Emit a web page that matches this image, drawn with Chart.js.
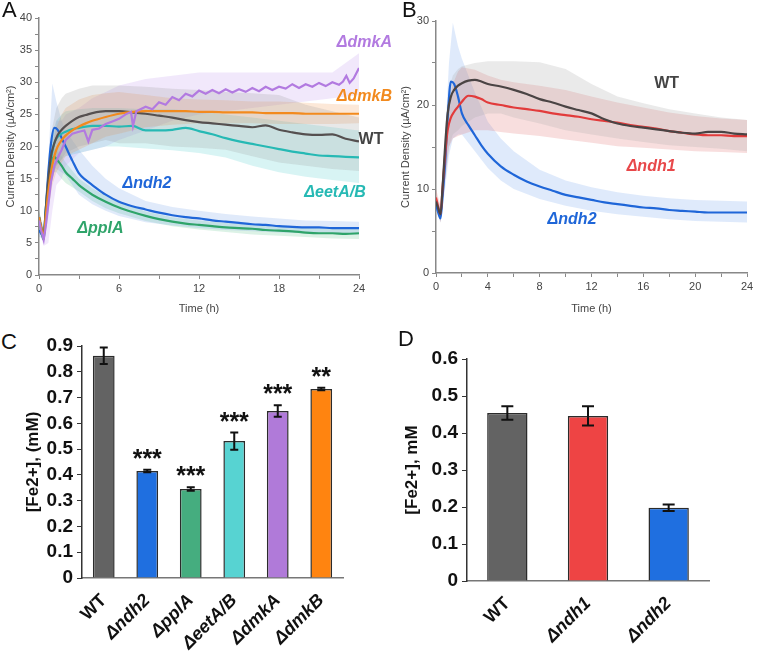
<!DOCTYPE html>
<html>
<head>
<meta charset="utf-8">
<script src="https://cdn.jsdelivr.net/npm/chart.js@4.4.0/dist/chart.umd.min.js"></script>
<style>
  body { margin: 0; background: #fff; width: 760px; height: 655px; position: relative; overflow: hidden;
         font-family: Arial, "Liberation Sans", sans-serif; }
  canvas { position: absolute; }
  .tag { position: absolute; font-size: 22px; line-height: 22px; color: #111; }
</style>
</head>
<body>
<canvas id="chartA" width="395" height="320" style="left:0;top:0"></canvas>
<canvas id="chartB" width="365" height="320" style="left:395px;top:0"></canvas>
<canvas id="chartC" width="370" height="330" style="left:19px;top:325px"></canvas>
<canvas id="chartD" width="362" height="330" style="left:398px;top:325px"></canvas>
<div class="tag" style="left:2px;top:-1px">A</div>
<div class="tag" style="left:402px;top:-1px">B</div>
<div class="tag" style="left:1px;top:331px">C</div>
<div class="tag" style="left:398px;top:328px">D</div>
<script>
// ---- panel A / B : current density traces ----
const timeLine = [0,0.15,0.35,0.5,0.7,0.9,1.15,1.4,1.7,2,2.5,3,3.5,4,5,6,7,8,9,10,11,12,13,14,15,16,17,18,19,20,21,22,23,24];
const timeBand = [0,0.35,0.7,1,1.3,1.7,2,3,4,5,6,8,10,12,14,16,18,20,22,24];
const timeDmkA = [0,0.15,0.35,0.5,0.7,0.9,1.15,1.4,1.7,2,2.5,3,3.4,3.7,4,4.5,5,5.5,6,6.5,6.9,7.05,7.3,8,8.5,9,9.5,10,10.5,11,11.5,12,12.5,13,13.5,14,14.5,15,15.5,16,16.5,17,17.5,18,18.5,19,19.5,20,20.5,21,21.5,22,22.5,22.8,23.05,23.3,23.6,24];

const wtA    = [9,7.5,6,10,15,18.5,20.5,21.8,22.6,23.2,24,24.6,24.9,25.2,25.5,25.5,25.3,25.1,24.8,24.5,24.1,23.8,23.6,23.4,23.2,23.0,23.3,22.6,22.2,21.9,21.8,21.9,21.2,20.8];
const dmkBA  = [9,7.5,6,9,13,16,18.5,20,21,21.7,22.5,23.1,23.6,24,24.6,25.1,25.4,25.5,25.5,25.5,25.5,25.4,25.4,25.3,25.3,25.3,25.2,25.2,25.2,25.1,25.1,25.1,25.1,25.1];
const eetA   = [9,7.5,6,10,14.5,18,20.5,21.5,22,22.3,22.7,22.9,23.1,23.2,23.2,23.1,23.2,22.5,22.5,22.6,22.9,22.4,21.9,21.3,20.8,20.4,20.0,19.6,19.2,18.9,18.6,18.5,18.4,18.3];
const ndh2A  = [7,6.5,6,10,16,20.5,22.9,22.6,21.3,20,17.8,15.8,14.8,14.0,12.5,11.4,10.7,10.2,9.7,9.3,9.0,8.8,8.5,8.3,8.1,7.9,7.8,7.6,7.5,7.4,7.4,7.3,7.3,7.3];
const pplA   = [9,7,5.5,9,13.5,17.5,18.4,17.8,17,16,15,14,13.2,12.5,11.4,10.5,9.8,9.2,8.7,8.3,8.0,7.8,7.6,7.4,7.3,7.2,7.0,6.9,6.8,6.6,6.5,6.5,6.4,6.5];
const dmkAA  = [8.5,7,5.5,7.5,11,14.5,17,18.2,19.5,21,22,22.3,22.5,20.8,22.6,22.8,23.5,23.9,24.3,25,25.4,23.2,25.5,26.2,25.8,26.9,26.5,27.7,27.2,28.2,27.8,28.7,28.2,28.8,28.3,28.9,28.4,28.9,28.5,29.1,28.6,29.3,28.8,29.3,29.0,29.7,29.1,29.7,29.3,29.9,29.4,30,29.6,30.1,31,29.9,30.6,32.2];

const wtAHi   = [10,7,17,23,26,27.5,28.2,29,29.5,29.5,29.5,29.3,29,28.8,28.5,28.3,28,26.5,25.5,24.5];
const wtALo   = [8,5,12,15,17,18,19,20,20.5,21,20.5,20.5,20,19.8,19.5,18.5,17.5,17,16.5,16.2];
const dmkBAHi = [10,7,15,20,23,25,26,27.3,28,28.3,28.5,28,27.5,27.3,27.2,27,27,26.8,26.6,26.5];
const dmkBALo = [8,5,10,14,16,17.5,18.5,19.5,20.5,21.5,22,23,23.4,23.6,23.6,23.6,23.5,23.5,23.5,23.6];
const eetAHi  = [10,7,15,22,24,25,25.5,25.8,26,26,26,25.8,25.8,25.5,25,24.5,24,23.5,23,22.5];
const eetALo  = [8,5,11,15,17,18,18.5,19,19.5,20,20,19.7,19.4,19,18.3,17,16,15.3,14.8,14.3];
const dmkAAHi = [10,7,14,20,24,24,25,26,27.5,28.5,29.5,30.5,31,31.5,31.5,31.5,31.5,31.5,31.5,34.5];
const dmkAALo = [7,4.5,5,10,14,15,17,19,19.5,20,21,22.5,24,25,25.5,26,26.5,27,27.5,28];
const ndh2AHi = [8,7,18,29.8,27,24,22.5,19.5,17,15,13.5,11.5,10.6,10,9.5,9.1,8.8,8.5,8.4,8.3];
const ndh2ALo = [6,5.5,10,17,16.5,16,15.5,12.5,11,10,9.2,8.2,7.7,7.3,7,6.8,6.6,6.5,6.4,6.3];
const pplAHi  = [10,6.5,14,20,19.5,18.5,17.5,15,13.5,12.3,11.3,9.9,9,8.5,8.1,7.8,7.5,7.3,7.2,7.2];
const pplALo  = [8,5,9,16,16,15,14.3,13,11.5,10.4,9.6,8.4,7.6,7.1,6.7,6.3,6.1,5.9,5.7,5.6];

const wtB    = [8.5,7.8,7,10,15,19,21,21.8,22.3,22.6,22.9,23,22.8,22.5,22.2,21.8,21.3,20.7,20.3,19.8,19.4,19,18.3,17.8,17.5,17.3,17.1,16.9,16.7,16.6,16.8,16.8,16.6,16.5];
const ndh1B  = [9,8,7,10,14,17,18.5,19.2,19.8,20.4,21.1,21,20.7,20.3,20,19.7,19.5,19.3,19,18.8,18.6,18.3,18.1,17.9,17.6,17.4,17.2,16.9,16.7,16.5,16.4,16.4,16.3,16.3];
const ndh2B  = [8.2,7.3,6.5,9,13,18.5,22.8,22.5,21,19,17.6,16.4,15.2,14.2,12.7,11.7,10.9,10.3,9.8,9.3,9.0,8.7,8.4,8.2,8.0,7.8,7.7,7.5,7.4,7.3,7.2,7.2,7.2,7.2];
const wtBHi   = [9,8,17,22,23.5,24.3,24.6,25,25.2,25.2,25.2,25.1,24.3,22.5,21,20.2,19.5,19,18.5,18.2];
const wtBLo   = [8,6,11,15,16.5,17,17.5,18.5,19,19,18.5,17.8,17,16.5,16,15.6,15.2,15,14.8,14.5];
const ndh1BHi = [10,8,16,20,22.5,24,24.5,24.2,23.5,23,22.7,22.3,21.8,21,20.3,19.7,19.1,18.7,18.4,18.2];
const ndh1BLo = [8,6,11,15,16,16.3,16.5,17,17,16.8,16.6,16.3,15.9,15.5,15.1,14.9,14.7,14.5,14.4,14.3];
const ndh2BHi = [9,7.5,16,25,29.8,27,25.5,21.5,18,16,14.5,12.3,11,10.2,9.6,9.2,8.9,8.7,8.6,8.5];
const ndh2BLo = [7.5,6,10,14,16,16.5,16.5,14.5,12.5,11,10,8.8,8,7.4,7,6.7,6.4,6.2,6.1,6];

const labelTextA = ['ΔdmkA', 'ΔdmkB', 'WT', 'ΔeetA/B', 'Δndh2', 'ΔpplA'];
const labelXA = [24.4, 24.4, 24.9, 22.2, 8.1, 4.6];
const labelYA = [36.1, 27.7, 21.0, 12.9, 14.2, 7.3];
const labelColA = ['#b27ae0', '#f28a1e', '#444444', '#26b9b4', '#1f66d8', '#2fa46a'];
const labelTextB = ['WT', 'Δndh1', 'Δndh2'];
const labelXB = [17.8, 16.6, 10.5];
const labelYB = [22.6, 12.7, 6.4];
const labelColB = ['#444444', '#e8484a', '#1f66d8'];

// ---- panel C / D : Fe2+ bars ----
const strainsC = ['WT', 'Δndh2', 'ΔpplA', 'ΔeetA/B', 'ΔdmkA', 'ΔdmkB'];
const fe2C = [0.862, 0.415, 0.345, 0.531, 0.648, 0.733];
const errC = [0.032, 0.005, 0.007, 0.033, 0.022, 0.005];
const starsC = ['', '***', '***', '***', '***', '**'];
const colorsC = ['#636363', '#1f6fe0', '#45ad7f', '#57d3d2', '#b07ad9', '#ff8410'];
const strainsD = ['WT', 'Δndh1', 'Δndh2'];
const fe2D = [0.454, 0.446, 0.198];
const errD = [0.018, 0.026, 0.009];
const colorsD = ['#636363', '#ee4444', '#1f6fe0'];

const FONT = 'Arial, "Liberation Sans", sans-serif';
Chart.defaults.font.family = FONT;
Chart.defaults.animation = false;

function pts(t, v) { return t.map((x, i) => ({ x: x, y: v[i] })); }

function band(hi, lo, fillCol) {
    return [
        { data: pts(timeBand, hi), borderWidth: 0, pointRadius: 0, fill: false },
        { data: pts(timeBand, lo), borderWidth: 0, pointRadius: 0, fill: '-1', backgroundColor: fillCol }
    ];
}

function trace(t, v, col, smooth) {
    return { data: pts(t, v), borderColor: col, borderWidth: 2.2, pointRadius: 0, fill: false,
             cubicInterpolationMode: smooth ? 'monotone' : 'default', tension: 0 };
}

function labelPlugin(texts, xs, ys, cols) {
    return {
        id: 'curveLabels',
        afterDraw(chart) {
            const { ctx, scales: { x, y } } = chart;
            ctx.save();
            ctx.textAlign = 'center';
            ctx.textBaseline = 'middle';
            texts.forEach((t, i) => {
                ctx.font = (t === 'WT' ? 'bold ' : 'italic bold ') + '16px ' + FONT;
                ctx.fillStyle = cols[i];
                ctx.fillText(t, x.getPixelForValue(xs[i]), y.getPixelForValue(ys[i]));
            });
            ctx.restore();
        }
    };
}

function lineAxes(xMax, xStep, xMajor, yMax, yStep, yMajor, yW, xH) {
    const tickFont = { size: 11 };
    return {
        x: {
            type: 'linear', min: 0, max: xMax,
            ticks: { stepSize: xStep, autoSkip: false, maxRotation: 0, color: '#444', font: tickFont, padding: 3,
                     callback: v => v % xMajor === 0 ? v : '' },
            grid: { drawOnChartArea: false, tickLength: 4, color: '#888' },
            border: { color: '#888', width: 1.5 },
            title: { display: true, text: 'Time (h)', color: '#444', font: { size: 11 } },
            afterFit: s => { s.height = xH; }
        },
        y: {
            min: 0, max: yMax,
            ticks: { stepSize: yStep, autoSkip: false, color: '#444', font: tickFont, padding: 3,
                     callback: v => v % yMajor === 0 ? v : '' },
            grid: { drawOnChartArea: false, tickLength: 4, color: '#888' },
            border: { color: '#888', width: 1.5 },
            title: { display: true, text: 'Current Density (µA/cm²)', color: '#444', font: { size: 11 } },
            afterFit: s => { s.width = yW; }
        }
    };
}

new Chart(document.getElementById('chartA'), {
    type: 'line',
    data: {
        datasets: [
            ...band(wtAHi, wtALo, 'rgba(150,150,150,0.22)'),
            ...band(dmkBAHi, dmkBALo, 'rgba(242,140,60,0.2)'),
            ...band(eetAHi, eetALo, 'rgba(60,200,200,0.2)'),
            ...band(dmkAAHi, dmkAALo, 'rgba(190,150,235,0.22)'),
            ...band(ndh2AHi, ndh2ALo, 'rgba(100,150,230,0.2)'),
            ...band(pplAHi, pplALo, 'rgba(80,190,130,0.2)'),
            trace(timeDmkA, dmkAA, '#b27ae0', false),
            trace(timeLine, dmkBA, '#f28a1e', true),
            trace(timeLine, wtA, '#555050', true),
            trace(timeLine, eetA, '#26b9b4', true),
            trace(timeLine, pplA, '#2fa46a', true),
            trace(timeLine, ndh2A, '#1f66d8', true)
        ]
    },
    options: {
        responsive: false,
        layout: { padding: { top: 18, right: 36, left: 0, bottom: 0 } },
        scales: lineAxes(24, 3, 6, 40, 2.5, 5, 39, 45),
        plugins: { legend: { display: false }, tooltip: { enabled: false }, filler: { drawTime: 'beforeDatasetsDraw' } }
    },
    plugins: [labelPlugin(labelTextA, labelXA, labelYA, labelColA)]
});

new Chart(document.getElementById('chartB'), {
    type: 'line',
    data: {
        datasets: [
            ...band(wtBHi, wtBLo, 'rgba(170,170,170,0.25)'),
            ...band(ndh1BHi, ndh1BLo, 'rgba(220,90,90,0.2)'),
            ...band(ndh2BHi, ndh2BLo, 'rgba(110,160,235,0.22)'),
            trace(timeLine, wtB, '#4a4444', true),
            trace(timeLine, ndh1B, '#e23b3b', true),
            trace(timeLine, ndh2B, '#1f66d8', true)
        ]
    },
    options: {
        responsive: false,
        layout: { padding: { top: 21, right: 13, left: 0, bottom: 0 } },
        scales: lineAxes(24, 2, 4, 30, 5, 10, 41, 47),
        plugins: { legend: { display: false }, tooltip: { enabled: false }, filler: { drawTime: 'beforeDatasetsDraw' } }
    },
    plugins: [labelPlugin(labelTextB, labelXB, labelYB, labelColB)]
});

function errorPlugin(values, errors, stars, cap) {
    return {
        id: 'errorBars',
        afterDatasetsDraw(chart) {
            const { ctx } = chart;
            const y = chart.scales.y;
            chart.getDatasetMeta(0).data.forEach((bar, i) => {
                const top = y.getPixelForValue(values[i] + errors[i]);
                const bot = y.getPixelForValue(values[i] - errors[i]);
                ctx.save();
                ctx.strokeStyle = '#111';
                ctx.lineWidth = 2;
                ctx.beginPath();
                ctx.moveTo(bar.x, top); ctx.lineTo(bar.x, bot);
                ctx.moveTo(bar.x - cap, top); ctx.lineTo(bar.x + cap, top);
                ctx.moveTo(bar.x - cap, bot); ctx.lineTo(bar.x + cap, bot);
                ctx.stroke();
                if (stars && stars[i]) {
                    ctx.fillStyle = '#111';
                    ctx.font = 'bold 25px ' + FONT;
                    ctx.textAlign = 'center';
                    ctx.textBaseline = 'alphabetic';
                    ctx.fillText(stars[i], bar.x, top - 3);
                }
                ctx.restore();
            });
        }
    };
}

function barAxes(yMax, title, yW, xH) {
    return {
        x: {
            ticks: { minRotation: 45, maxRotation: 45, autoSkip: false, color: '#111', padding: 4,
                     font: c => ({ size: 18, weight: 'bold', style: c.index > 0 ? 'italic' : 'normal' }) },
            grid: { display: false },
            border: { color: '#777', width: 1.5 },
            afterFit: s => { s.height = xH; }
        },
        y: {
            min: 0, max: yMax,
            ticks: { stepSize: 0.1, autoSkip: false, color: '#111', padding: 4, font: { size: 19, weight: 'bold' },
                     callback: v => v === 0 ? '0' : v.toFixed(1) },
            grid: { drawOnChartArea: false, tickLength: 5, color: '#333' },
            border: { color: '#333', width: 1.5 },
            title: { display: true, text: title, color: '#111', font: { size: 17, weight: 'bold' } },
            afterFit: s => { s.width = yW; }
        }
    };
}

new Chart(document.getElementById('chartC'), {
    type: 'bar',
    data: {
        labels: strainsC,
        datasets: [{ data: fe2C, backgroundColor: colorsC, borderColor: '#2b2b2b', borderWidth: 1.5,
                     barPercentage: 0.5, categoryPercentage: 1 }]
    },
    options: {
        responsive: false,
        layout: { padding: { top: 21, right: 46, left: 0, bottom: 0 } },
        scales: barAxes(0.9, '[Fe2+], (mM)', 63, 77),
        plugins: { legend: { display: false }, tooltip: { enabled: false } }
    },
    plugins: [errorPlugin(fe2C, errC, starsC, 4)]
});

new Chart(document.getElementById('chartD'), {
    type: 'bar',
    data: {
        labels: strainsD,
        datasets: [{ data: fe2D, backgroundColor: colorsD, borderColor: '#2b2b2b', borderWidth: 1.5,
                     barPercentage: 0.5, categoryPercentage: 1 }]
    },
    options: {
        responsive: false,
        layout: { padding: { top: 34, right: 51, left: 0, bottom: 0 } },
        scales: barAxes(0.6, '[Fe2+], mM', 69, 74),
        plugins: { legend: { display: false }, tooltip: { enabled: false } }
    },
    plugins: [errorPlugin(fe2D, errD, null, 6)]
});
</script>
</body>
</html>
